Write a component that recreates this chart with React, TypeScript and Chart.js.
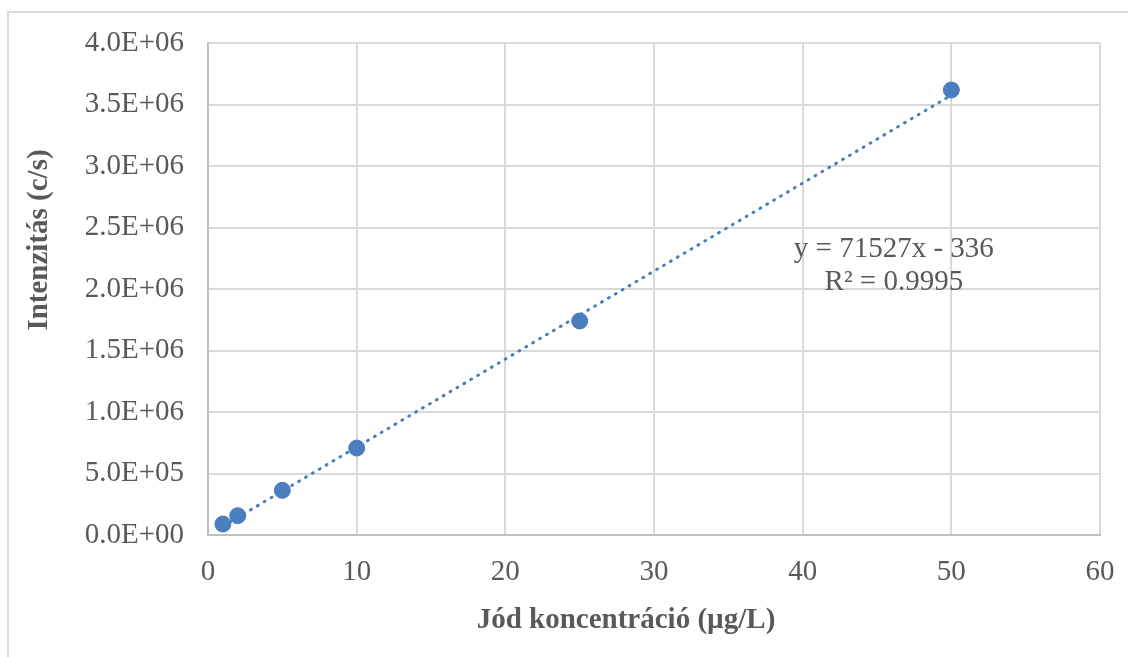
import React, { useEffect, useRef } from "react";
import { Chart, registerables } from "chart.js";
Chart.register(...registerables);

const concentrations = [1, 2, 5, 10, 25, 50];
const intensities = [89000, 157000, 363000, 707000, 1740000, 3618000];
const trendX = [1, 50];
const trendY = [71191, 3576014];
const equationLines = ["y = 71527x - 336", "R² = 0.9995"];
const equationAt = [46, 2320000];
const xTitle = "Jód koncentráció (µg/L)";
const yTitle = "Intenzitás (c/s)";

const TEXT = "#595959";
const GRID = "#d9d9d9";
const BLUE = "#4a7ebf";
const FONT = "'Liberation Serif', 'Times New Roman', serif";

const fmtSci = (v: number) => {
  if (v === 0) return "0.0E+00";
  const e = Math.floor(Math.log10(Math.abs(v)) + 1e-9);
  const m = v / Math.pow(10, e);
  return m.toFixed(1) + "E" + (e < 0 ? "-" : "+") + String(Math.abs(e)).padStart(2, "0");
};

const framePlugin = {
  id: "frame",
  beforeDraw(chart: any) {
    const ctx = chart.ctx;
    ctx.save();
    ctx.fillStyle = "#ffffff";
    ctx.fillRect(0, 0, chart.width, chart.height);
    ctx.strokeStyle = GRID;
    ctx.lineWidth = 2;
    ctx.strokeRect(8, 12, chart.width + 40, chart.height + 40);
    ctx.restore();
  },
  afterDraw(chart: any) {
    const ctx = chart.ctx;
    ctx.save();
    ctx.fillStyle = TEXT;
    ctx.font = "bold 29px " + FONT;
    ctx.textAlign = "center";
    ctx.textBaseline = "middle";
    ctx.fillText(xTitle, 626, 621);
    ctx.translate(40, 240);
    ctx.rotate(-Math.PI / 2);
    ctx.fillText(yTitle, 0, 0);
    ctx.restore();
  },
  afterDatasetsDraw(chart: any) {
    const ctx = chart.ctx;
    const x = chart.scales.x.getPixelForValue(equationAt[0]);
    const y = chart.scales.y.getPixelForValue(equationAt[1]);
    ctx.save();
    ctx.fillStyle = TEXT;
    ctx.font = "29px " + FONT;
    ctx.textAlign = "center";
    ctx.textBaseline = "middle";
    equationLines.forEach((t, i) => ctx.fillText(t, x + 2, y + i * 33));
    ctx.restore();
  },
};

export default function App() {
  const ref = useRef<HTMLCanvasElement>(null);
  useEffect(() => {
    const chart = new Chart(ref.current!, {
      type: "scatter",
      data: {
        datasets: [
          {
            data: concentrations.map((x, i) => ({ x, y: intensities[i] })),
            backgroundColor: BLUE,
            borderColor: BLUE,
            pointRadius: 8,
            pointHoverRadius: 8,
            order: 0,
          },
          {
            data: trendX.map((x, i) => ({ x, y: trendY[i] })),
            showLine: true,
            borderColor: BLUE,
            borderWidth: 3,
            borderDash: [1, 7],
            borderCapStyle: "round",
            pointRadius: 0,
            order: 1,
          } as any,
        ],
      },
      options: {
        animation: false,
        responsive: false,
        layout: { padding: { left: 0, top: 43, right: 28, bottom: 0 } },
        plugins: { legend: { display: false }, tooltip: { enabled: false } },
        scales: {
          x: {
            type: "linear",
            min: 0,
            max: 60,
            ticks: { stepSize: 10, color: TEXT, font: { family: FONT, size: 29 }, padding: 20 },
            grid: { color: GRID, lineWidth: 2, drawTicks: false },
            border: { color: "#bfbfbf", width: 2 },
            afterFit(s: any) {
              s.height = 122;
              s.paddingLeft = 0;
              s.paddingRight = 0;
            },
          },
          y: {
            type: "linear",
            min: 0,
            max: 4000000,
            ticks: {
              stepSize: 500000,
              color: TEXT,
              font: { family: FONT, size: 29 },
              padding: 24,
              callback: (v: any) => fmtSci(Number(v)),
            },
            grid: { color: GRID, lineWidth: 2, drawTicks: false },
            border: { color: "#bfbfbf", width: 2 },
            afterFit(s: any) {
              s.width = 208;
              s.paddingTop = 0;
              s.paddingBottom = 0;
            },
          },
        },
      } as any,
      plugins: [framePlugin],
    });
    return () => chart.destroy();
  }, []);
  return (
    <>
      <style>{"body{margin:0}"}</style>
      <canvas ref={ref} width={1128} height={657} style={{ display: "block", width: 1128, height: 657 }} />
    </>
  );
}
